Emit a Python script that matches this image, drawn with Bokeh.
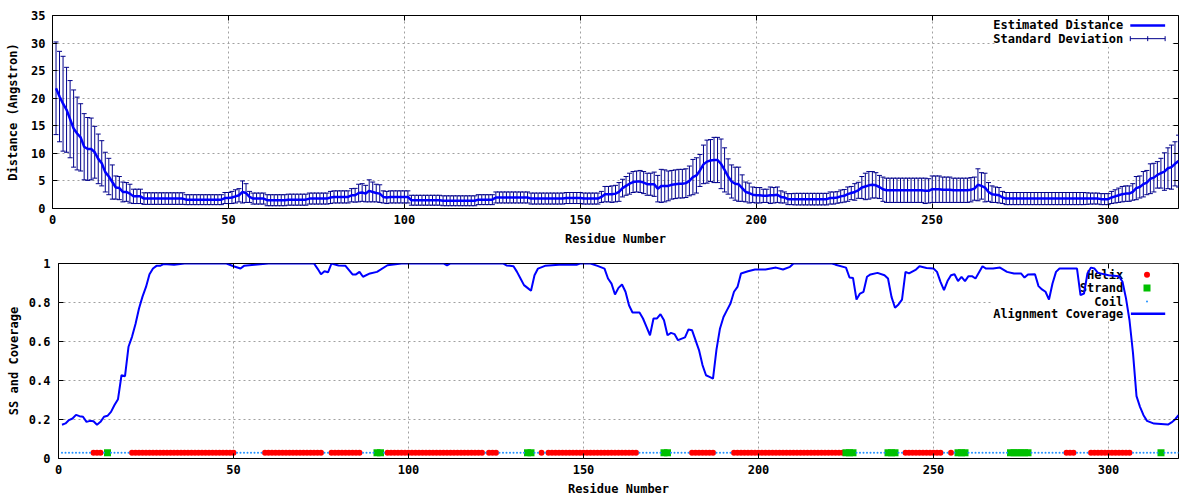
from bokeh.plotting import figure
from bokeh.layouts import column, row
from bokeh.models import Range1d, LinearAxis, FixedTicker, CustomJSTickFormatter
from bokeh.core.properties import value
from bokeh.embed import file_html
from bokeh.resources import INLINE

# ---------------- data ----------------
residues = list(range(1, 321))

dist = [
    21.8, 20.3, 19.0, 17.9, 16.2, 14.5, 13.6, 12.9, 11.2, 10.8,
    10.8, 10.2, 9.0, 8.2, 6.6, 5.8, 4.8, 3.8, 3.7, 3.0,
    3.0, 2.7, 2.2, 2.2, 2.2, 1.8, 1.8, 1.8, 1.8, 1.8,
    1.8, 1.8, 1.8, 1.8, 1.8, 1.8, 1.8, 1.6, 1.6, 1.6,
    1.6, 1.6, 1.6, 1.6, 1.6, 1.6, 1.6, 1.6, 1.9, 1.9,
    2.0, 2.2, 2.4, 3.0, 2.8, 2.1, 1.8, 1.8, 1.8, 1.8,
    1.5, 1.5, 1.5, 1.5, 1.5, 1.5, 1.6, 1.6, 1.6, 1.6,
    1.6, 1.6, 1.8, 1.8, 1.8, 1.8, 1.8, 1.8, 2.0, 2.1,
    2.1, 2.1, 2.1, 2.1, 2.4, 2.4, 2.8, 2.9, 2.7, 3.2,
    3.0, 2.8, 2.7, 2.1, 2.0, 2.1, 2.1, 2.1, 2.1, 2.1,
    2.1, 1.5, 1.5, 1.5, 1.5, 1.5, 1.5, 1.5, 1.5, 1.5,
    1.4, 1.4, 1.4, 1.4, 1.4, 1.4, 1.4, 1.4, 1.4, 1.4,
    1.6, 1.6, 1.6, 1.6, 1.6, 2.0, 2.0, 2.0, 2.0, 2.0,
    2.0, 2.0, 2.0, 2.0, 2.0, 1.8, 1.8, 1.8, 1.8, 1.8,
    1.8, 1.8, 1.8, 1.8, 1.8, 1.9, 1.9, 1.9, 1.9, 1.9,
    1.8, 1.8, 1.8, 1.8, 1.8, 2.1, 2.6, 2.6, 2.6, 2.7,
    3.0, 3.7, 4.1, 4.5, 4.8, 4.9, 4.9, 4.7, 4.4, 4.4,
    4.4, 3.6, 4.1, 4.1, 4.1, 4.3, 4.4, 4.5, 4.5, 4.6,
    5.0, 5.7, 6.0, 6.9, 8.0, 8.5, 8.7, 8.8, 8.8, 8.1,
    7.0, 5.8, 4.9, 4.5, 4.4, 3.7, 3.0, 2.8, 2.5, 2.4,
    2.4, 2.3, 2.3, 2.4, 2.4, 2.5, 2.1, 2.0, 1.7, 1.7,
    1.7, 1.7, 1.7, 1.7, 1.7, 1.7, 1.7, 1.7, 1.7, 1.7,
    1.9, 1.9, 2.0, 2.2, 2.3, 2.6, 2.8, 3.0, 3.3, 3.8,
    4.0, 4.2, 4.3, 4.2, 3.9, 3.5, 3.3, 3.3, 3.3, 3.3,
    3.3, 3.3, 3.3, 3.3, 3.3, 3.3, 3.3, 3.2, 3.2, 3.5,
    3.5, 3.5, 3.4, 3.4, 3.4, 3.3, 3.3, 3.3, 3.3, 3.3,
    3.4, 3.6, 4.3, 4.1, 3.8, 3.0, 2.6, 2.5, 2.4, 2.0,
    1.8, 1.8, 1.8, 1.8, 1.8, 1.8, 1.8, 1.8, 1.8, 1.8,
    1.8, 1.8, 1.8, 1.8, 1.8, 1.8, 1.8, 1.8, 1.8, 1.8,
    1.8, 1.8, 1.8, 1.8, 1.8, 1.8, 1.8, 1.7, 1.7, 1.7,
    2.0, 2.2, 2.4, 2.6, 2.7, 2.7, 3.0, 3.7, 3.9, 4.4,
    4.7, 5.4, 5.6, 6.1, 6.4, 6.7, 7.3, 7.5, 8.1, 8.6,
]

sd = [
    8.4, 8.2, 8.6, 7.7, 7.0, 7.0, 6.6, 6.1, 6.0, 5.7,
    5.6, 4.7, 4.5, 4.1, 3.6, 3.3, 3.1, 2.1, 2.1, 1.8,
    1.7, 1.7, 1.3, 1.3, 1.3, 1.05, 1.05, 1.05, 1.05, 1.05,
    1.05, 1.05, 1.05, 1.05, 1.05, 1.05, 1.05, 0.9, 0.9, 0.9,
    0.9, 0.9, 0.9, 0.9, 0.9, 0.9, 0.9, 0.9, 1.0, 1.0,
    1.1, 1.2, 1.2, 2.0, 1.7, 1.0, 1.0, 1.0, 1.0, 1.0,
    1.0, 1.0, 1.0, 1.0, 1.0, 1.0, 1.0, 1.0, 1.0, 1.0,
    1.0, 1.0, 1.0, 1.0, 1.0, 1.0, 1.0, 1.0, 1.1, 1.1,
    1.1, 1.1, 1.1, 1.1, 1.2, 1.25, 1.6, 1.6, 1.5, 2.0,
    1.8, 1.6, 1.6, 1.1, 1.1, 1.1, 1.1, 1.1, 1.1, 1.1,
    1.1, 0.9, 0.9, 0.9, 0.9, 0.9, 0.9, 0.9, 0.9, 0.9,
    0.9, 0.9, 0.9, 0.9, 0.9, 0.9, 0.9, 0.9, 0.9, 0.9,
    0.9, 0.9, 0.9, 0.9, 0.9, 1.0, 1.0, 1.0, 1.0, 1.0,
    1.0, 1.0, 1.0, 1.0, 1.0, 1.0, 1.0, 1.0, 1.0, 1.0,
    1.0, 1.0, 1.0, 1.0, 1.0, 1.0, 1.0, 1.0, 1.0, 1.0,
    1.0, 1.0, 1.0, 1.0, 1.0, 1.0, 1.4, 1.4, 1.5, 1.5,
    1.7, 1.6, 1.7, 1.9, 1.9, 1.9, 2.0, 2.0, 2.0, 2.0,
    2.2, 2.4, 3.0, 2.9, 2.7, 2.6, 2.6, 2.6, 2.6, 2.6,
    2.7, 3.2, 3.2, 2.9, 3.5, 3.9, 3.8, 4.1, 4.1, 4.5,
    4.0, 3.2, 3.0, 3.0, 3.1, 2.4, 1.8, 1.8, 1.4, 1.4,
    1.4, 1.2, 1.2, 1.5, 1.4, 1.4, 1.1, 1.0, 1.0, 1.0,
    1.05, 1.05, 1.05, 1.05, 1.05, 1.05, 1.05, 1.05, 1.05, 1.05,
    1.1, 1.1, 1.05, 1.15, 1.15, 1.3, 1.2, 1.5, 1.45, 2.0,
    2.4, 2.5, 2.4, 2.3, 2.1, 2.2, 2.2, 2.2, 2.2, 2.2,
    2.2, 2.2, 2.2, 2.2, 2.2, 2.2, 2.2, 2.3, 2.2, 2.4,
    2.4, 2.4, 2.3, 2.3, 2.3, 2.2, 2.2, 2.2, 2.2, 2.2,
    2.2, 2.1, 2.9, 2.4, 2.6, 1.7, 1.5, 1.4, 1.4, 1.1,
    1.1, 1.1, 1.1, 1.1, 1.1, 1.1, 1.1, 1.1, 1.1, 1.1,
    1.1, 1.1, 1.1, 1.1, 1.1, 1.1, 1.1, 1.1, 1.1, 1.1,
    1.1, 1.1, 1.1, 1.05, 1.0, 1.0, 1.0, 1.0, 1.0, 1.0,
    1.1, 1.2, 1.3, 1.4, 1.4, 1.4, 1.5, 2.1, 2.0, 2.3,
    2.2, 2.7, 2.6, 2.4, 2.7, 3.4, 3.7, 4.0, 4.0, 4.7,
]

cov_res = [1, 2, 3, 4, 5, 6, 7, 8, 9, 10, 11, 12, 13, 14, 15, 16, 17, 18, 19, 20,
           21, 22, 23, 24, 25, 26, 27, 28, 29, 30, 33, 36, 48, 50, 52, 53, 56, 60, 73, 74,
           75, 76, 77, 78, 80, 82, 84, 85, 86, 87, 89, 91, 94, 98, 110, 111, 112, 127, 128, 130,
           131, 132, 133, 134, 135, 136, 137, 139, 143, 148, 149, 152, 154, 156, 157, 158, 159, 160, 161, 162,
           163, 164, 166, 167, 168, 169, 170, 171, 172, 173, 174, 175, 176, 177, 179, 180, 181, 182, 183, 184,
           185, 186, 187, 188, 189, 190, 191, 192, 193, 194, 195, 197, 199, 202, 205, 207, 209, 210, 221, 222,
           225, 226, 227, 228, 229, 230, 231, 232, 234, 236, 237, 238, 239, 240, 241, 242, 243, 245, 246, 248,
           250, 251, 252, 253, 254, 255, 256, 257, 258, 259, 260, 261, 262, 264, 265, 267, 269, 271, 273, 275,
           276, 277, 279, 280, 281, 282, 283, 284, 285, 286, 291, 292, 293, 294, 295, 296, 297, 300, 303, 304,
           305, 306, 307, 308, 309, 310, 311, 313, 317, 318, 319, 320]
cov_val = [0.173, 0.18, 0.197, 0.205, 0.224, 0.217, 0.214, 0.188, 0.193, 0.191, 0.173, 0.188, 0.214, 0.219, 0.239, 0.274, 0.304, 0.427, 0.422, 0.573,
           0.624, 0.69, 0.769, 0.83, 0.88, 0.945, 0.974, 0.988, 0.988, 0.997, 0.993, 1.0, 1.0, 0.986, 0.974, 0.988, 0.993, 1.0, 1.0, 0.974,
           0.945, 0.96, 0.955, 1.0, 0.99, 0.988, 0.944, 0.944, 0.957, 0.932, 0.949, 0.957, 0.991, 1.0, 1.0, 0.99, 1.0, 1.0, 0.99, 0.986,
           0.957, 0.923, 0.889, 0.875, 0.86, 0.94, 0.974, 0.988, 0.993, 0.993, 1.0, 1.0, 0.988, 0.974, 0.923, 0.897, 0.841, 0.875, 0.892, 0.855,
           0.786, 0.749, 0.749, 0.718, 0.675, 0.632, 0.718, 0.718, 0.74, 0.709, 0.632, 0.644, 0.638, 0.607, 0.621, 0.662, 0.658, 0.607, 0.556, 0.479,
           0.427, 0.419, 0.41, 0.56, 0.667, 0.726, 0.761, 0.795, 0.855, 0.88, 0.949, 0.96, 0.969, 0.969, 0.979, 0.969, 0.983, 1.0, 1.0, 0.994,
           0.979, 0.928, 0.926, 0.815, 0.846, 0.855, 0.932, 0.944, 0.952, 0.94, 0.923, 0.829, 0.773, 0.79, 0.815, 0.957, 0.949, 0.969, 0.986, 0.977,
           0.974, 0.957, 0.906, 0.863, 0.91, 0.94, 0.945, 0.91, 0.932, 0.91, 0.935, 0.935, 0.923, 0.986, 0.974, 0.974, 0.979, 0.957, 0.949, 0.949,
           0.928, 0.944, 0.945, 0.884, 0.867, 0.855, 0.815, 0.897, 0.957, 0.974, 0.974, 0.838, 0.846, 0.95, 0.979, 0.974, 0.952, 0.94, 0.935, 0.906,
           0.821, 0.709, 0.54, 0.32, 0.265, 0.222, 0.193, 0.179, 0.174, 0.185, 0.2, 0.222]

helix_segments = [(10, 12), (21, 50), (59, 75), (78, 86), (94, 121), (123, 125), (138, 138),
                  (140, 165), (181, 187), (193, 224), (242, 252), (255, 255), (288, 290), (295, 306)]
strand_segments = [(14, 14), (91, 92), (134, 135), (173, 174), (225, 227), (237, 239),
                   (257, 259), (272, 277), (315, 315)]

x_ticks = [0, 50, 100, 150, 200, 250, 300]
dist_ticks = [0, 5, 10, 15, 20, 25, 30, 35]
cov_ticks = [0, 0.2, 0.4, 0.6, 0.8, 1.0]

# ---------------- derived ----------------
upper = [d + s for d, s in zip(dist, sd)]
lower = [d - s for d, s in zip(dist, sd)]

helix_res = [r for a, b in helix_segments for r in range(a, b + 1)]
strand_res = [r for a, b in strand_segments for r in range(a, b + 1)]
_ss = set(helix_res) | set(strand_res)
coil_res = [r for r in residues if r not in _ss]
SS_LEVEL = 0.03

# ---------------- style ----------------
FONT = "DejaVu Sans Mono"
FS = "12px"
BLUE = "#0000ff"
NAVY = "#00008b"
GRID = "#a0a0a0"


def style(p, xt, yt, ylabel, yfmt=None, ystand=7, ylabstand=9, xstand=6, xlabstand=6):
    p.outline_line_color = "black"
    p.outline_line_width = 1
    for ax in p.xaxis + p.yaxis:
        ax.axis_line_color = None
        ax.major_tick_in = 5
        ax.major_tick_out = 0
        ax.minor_tick_line_color = None
        ax.major_label_text_font = FONT
        ax.major_label_text_font_size = FS
        ax.major_label_text_font_style = "bold"
        ax.major_label_text_color = "black"
        ax.axis_label_text_font = FONT
        ax.axis_label_text_font_size = FS
        ax.axis_label_text_font_style = "bold"
        ax.axis_label_text_color = "black"
    p.xaxis.ticker = FixedTicker(ticks=xt)
    p.yaxis.ticker = FixedTicker(ticks=yt)
    p.xaxis.axis_label = "Residue Number"
    p.yaxis.axis_label = ylabel
    p.xaxis.major_label_standoff = xstand
    p.xaxis.axis_label_standoff = xlabstand
    p.yaxis.major_label_standoff = ystand
    p.yaxis.axis_label_standoff = ylabstand
    if yfmt is not None:
        p.yaxis.formatter = yfmt
    p.xgrid.ticker = FixedTicker(ticks=xt)
    p.ygrid.ticker = FixedTicker(ticks=yt)
    for g in (p.xgrid, p.ygrid):
        g.grid_line_color = GRID
        g.grid_line_dash = "2 3"
        g.grid_line_width = 1
    # mirror ticks (no labels)
    for loc, ticks in (("right", yt), ("above", xt)):
        ax = LinearAxis(ticker=FixedTicker(ticks=ticks),
                        formatter=CustomJSTickFormatter(code="return '';"))
        ax.axis_line_color = None
        ax.major_tick_in = 5
        ax.major_tick_out = 0
        ax.minor_tick_line_color = None
        ax.major_label_standoff = 0
        ax.major_label_text_font_size = "1px"
        p.add_layout(ax, loc)


# ---------------- top plot ----------------
p1 = figure(width=1200, height=250, x_range=Range1d(0, 320), y_range=Range1d(0, 35),
            output_backend="svg", toolbar_location=None,
            min_border_left=52, min_border_right=22, min_border_top=15, min_border_bottom=42)
style(p1, x_ticks, dist_ticks, "Distance (Angstron)", ystand=7, ylabstand=8,
      xstand=6, xlabstand=5)

# legend background (hides grid)
p1.quad(left=[268], right=[318.3], bottom=[29.3], top=[34.8], fill_color="white", line_color=None)

p1.segment(x0=residues, x1=residues, y0=lower, y1=upper, line_color=NAVY, line_width=1)
p1.scatter(residues, upper, marker="dash", size=5, line_color=NAVY, line_width=1)
p1.scatter(residues, lower, marker="dash", size=5, line_color=NAVY, line_width=1)
p1.line(residues, dist, line_color=BLUE, line_width=2.5)

# legend
p1.text(x=[304.3, 304.3], y=[33.2, 30.8], text=["Estimated Distance", "Standard Deviation"],
        text_align="right", text_baseline="middle", text_font=value(FONT),
        text_font_size=FS, text_font_style="bold", text_color="black")
p1.segment(x0=[306.3], x1=[316.2], y0=[33.2], y1=[33.2], line_color=BLUE, line_width=2.5)
p1.segment(x0=[306.3], x1=[316.2], y0=[30.8], y1=[30.8], line_color=NAVY, line_width=1)
p1.segment(x0=[306.3, 311.25, 316.2], x1=[306.3, 311.25, 316.2],
           y0=[30.35, 30.35, 30.35], y1=[31.25, 31.25, 31.25], line_color=NAVY, line_width=1)

# ---------------- bottom plot ----------------
fmt = CustomJSTickFormatter(code="return (Math.round(tick*10)/10).toString();")
p2 = figure(width=1200, height=250, x_range=Range1d(0, 320), y_range=Range1d(0, 1),
            output_backend="svg", toolbar_location=None,
            min_border_left=58, min_border_right=22, min_border_top=13, min_border_bottom=42)
style(p2, x_ticks, cov_ticks, "SS and Coverage", yfmt=fmt, ystand=8, ylabstand=5,
      xstand=6, xlabstand=5)

p2.quad(left=[267], right=[318.3], bottom=[0.71], top=[1.0], fill_color="white", line_color=None)

p2.text(x=[304.2] * 4, y=[0.942, 0.875, 0.805, 0.742],
        text=["Helix", "Strand", "Coil", "Alignment Coverage"],
        text_align="right", text_baseline="middle", text_font=value(FONT),
        text_font_size=FS, text_font_style="bold", text_color="black")
p2.scatter([311], [0.942], marker="circle", size=6, fill_color="red", line_color=None)
p2.scatter([311], [0.875], marker="square", size=7, fill_color="#00c000", line_color=None)
p2.scatter([311], [0.805], marker="circle", size=2, fill_color="#2090ff", line_color=None)
p2.segment(x0=[306.4], x1=[316.2], y0=[0.742], y1=[0.742], line_color=BLUE, line_width=2.5)

p2.scatter(helix_res, [SS_LEVEL] * len(helix_res), marker="circle", size=6,
           fill_color="red", line_color=None)
p2.scatter(strand_res, [SS_LEVEL] * len(strand_res), marker="square", size=7,
           fill_color="#00c000", line_color=None)
p2.scatter(coil_res, [SS_LEVEL] * len(coil_res), marker="circle", size=2,
           fill_color="#2090ff", line_color=None)
p2.line(cov_res, cov_val, line_color=BLUE, line_width=2)

layout = column(row(p1), row(p2), spacing=0)
open("out.html", "w").write(file_html(layout, INLINE))
